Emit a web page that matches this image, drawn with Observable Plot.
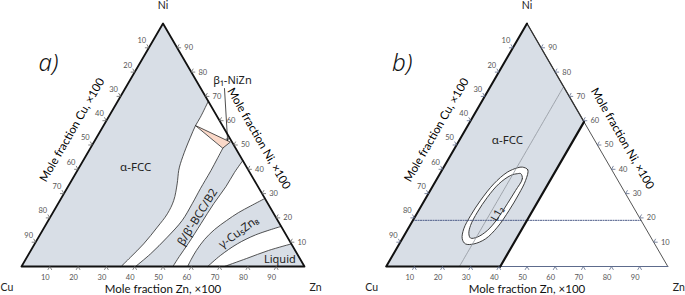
<!DOCTYPE html>
<html><head><meta charset="utf-8">
<script src="https://cdn.jsdelivr.net/npm/d3@7"></script>
<script src="https://cdn.jsdelivr.net/npm/@observablehq/plot@0.6"></script>
<style>
body{margin:0;background:#fff;}
#wrap{display:flex;width:685px;height:295px;overflow:hidden;}
#wrap svg{overflow:visible;}
</style></head><body><div id="wrap"></div>
<script>
// ---------- data (mole fractions [Zn, Ni]) ----------
const tickValues = [10, 20, 30, 40, 50, 60, 70, 80, 90];
const cornerNames = ["Cu", "Zn", "Ni"];
const axisTitles = ["Mole fraction Zn, ×100", "Mole fraction Cu, ×100", "Mole fraction Ni, ×100"];
const panelNames = ["a)", "b)"];

// panel a: phase boundaries
const alphaBoundaryA = [[0.32,0.68],[0.325,0.614],[0.325,0.58],[0.331,0.532],[0.338,0.484],[0.35,0.423],[0.358,0.395],[0.38,0.34],[0.402,0.272],[0.407,0.217],[0.399,0.162],[0.385,0.093],[0.366,0.038],[0.352,0]];
const betaLeftA = [[0.468,0.488],[0.47,0.443],[0.472,0.395],[0.472,0.354],[0.472,0.32],[0.474,0.258],[0.473,0.189],[0.455,0.121],[0.43,0.052],[0.403,0]];
const betaRightA = [[0.564,0.436],[0.559,0.387],[0.558,0.329],[0.55,0.259],[0.546,0.177],[0.542,0.095],[0.537,0.041],[0.535,0]];
const betaTopA = [[0.482,0.512],[0.49,0.51]];
const gammaUpperA = [[0.72,0.28],[0.685,0.249],[0.656,0.222],[0.63,0.189],[0.606,0.152],[0.591,0.111],[0.585,0.066],[0.585,0.03],[0.587,0]];
const gammaLowerA = [[0.835,0.165],[0.762,0.13],[0.716,0.093],[0.68,0.045],[0.658,0]];
const liquidA = [[0.907,0.093],[0.84,0.066],[0.779,0.033],[0.717,0]];
const beta1A = [[0.325,0.58],[0.482,0.512],[0.468,0.488]];
const beta1Pointer = [[0.351,0.7325],[0.469,0.5185]];
const phaseNamesA = ["α-FCC", "β/β'-BCC/B2", "γ-Cu₅Zn₈", "Liquid", "β₁-NiZn"];
const phaseLabelAtA = [[0.199,0.409],[0.52,0.203],[0.697,0.141],[0.899,0.028],[0.363,0.765]];

// panel b
const alphaLimitB = [[0.405,0.595],[0.405,0]];
const l12OuterB = [[0.279,0.409],[0.304,0.398],[0.318,0.354],[0.322,0.299],[0.321,0.231],[0.314,0.162],[0.296,0.114],[0.265,0.093],[0.235,0.093],[0.213,0.114],[0.198,0.155],[0.195,0.21],[0.199,0.272],[0.212,0.34],[0.236,0.388],[0.263,0.406]];
const l12InnerB = [[0.287,0.382],[0.303,0.361],[0.303,0.313],[0.301,0.258],[0.297,0.196],[0.285,0.148],[0.263,0.121],[0.241,0.117],[0.226,0.135],[0.215,0.169],[0.212,0.224],[0.217,0.285],[0.23,0.34],[0.255,0.375],[0.275,0.382]];
const isoNiB = 0.19;
const isoZnB = 0.26;
const phaseNamesB = ["α-FCC", "L1₂"];
const phaseLabelAtB = [[0.17,0.521],[0.286,0.217]];

// ---------- helpers ----------
const S = Math.sqrt(3) / 2;
const toXY = ([zn, ni]) => ({x: zn + ni / 2, y: ni * S});
const P = (pts) => pts.map(toXY);
const FILL = "#d8dee6";
const FONT = "Lato, 'Open Sans', 'Noto Sans', sans-serif";
const LFONT = "'Noto Sans', 'Open Sans', sans-serif";

function frameMarks(tickColor) {
  const bottom = tickValues.map(v => ({...toXY([v / 100, 0]), label: String(v)}));
  const right = tickValues.map(v => ({...toXY([1 - v / 100, v / 100]), label: String(v)}));
  const left = tickValues.map(v => ({...toXY([0, 1 - v / 100]), label: String(v)}));
  const L = 0.014, legs = [];
  for (const [ticks, dirs] of [[bottom, [[-0.5, -S], [0.5, -S]]], [right, [[1, 0], [0.5, S]]], [left, [[-1, 0], [-0.5, S]]]])
    for (const t of ticks) for (const [dx, dy] of dirs) legs.push({x1: t.x, y1: t.y, x2: t.x + dx * L, y2: t.y + dy * L});
  const corners = P([[0, 0], [1, 0], [0, 1]]).map((d, i) => ({...d, name: cornerNames[i]}));
  return [
    Plot.link(legs, {x1: "x1", y1: "y1", x2: "x2", y2: "y2", stroke: tickColor, strokeWidth: 0.8}),
    Plot.text(bottom, {x: "x", y: "y", text: "label", dx: -4.5, dy: 11, fontSize: 7.5, fill: "#555"}),
    Plot.text(right, {x: "x", y: "y", text: "label", dx: 11.5, dy: 0, fontSize: 7.5, fill: "#555"}),
    Plot.text(left, {x: "x", y: "y", text: "label", dx: -7, dy: -7, fontSize: 7.5, fill: "#555"}),
    Plot.text([corners[0]], {x: "x", y: "y", text: "name", dx: -14.5, dy: 21, fontSize: 10.5, fill: "#222"}),
    Plot.text([corners[1]], {x: "x", y: "y", text: "name", dx: 11, dy: 21, fontSize: 10.5, fill: "#222"}),
    Plot.text([corners[2]], {x: "x", y: "y", text: "name", dy: -18, fontSize: 10.5, fill: "#222"}),
    Plot.text([toXY([0.5, 0])], {x: "x", y: "y", text: () => axisTitles[0], dy: 23, fontSize: 11.5, fill: "#111"}),
    Plot.text([toXY([0, 0.5])], {x: "x", y: "y", text: () => axisTitles[1], dx: -20, dy: -15, rotate: -60, fontSize: 11.5, fill: "#000"}),
    Plot.text([toXY([0.5, 0.5])], {x: "x", y: "y", text: () => axisTitles[2], dx: 25, dy: -6.5, rotate: 60, fontSize: 11.5, fill: "#000"})
  ];
}

function opts(width, ml, mr, marks) {
  return {
    width, height: 295, marginLeft: ml, marginRight: mr, marginTop: 23, marginBottom: 29,
    x: {domain: [0, 1], axis: null}, y: {domain: [0, S], axis: null},
    style: {fontFamily: FONT, background: "white", overflow: "visible"},
    marks
  };
}

const boundary = (pts) => Plot.line(P(pts), {x: "x", y: "y", stroke: "#2a2a2a", strokeWidth: 0.8, curve: "catmull-rom"});
const region = (pts) => Plot.line(P(pts), {x: "x", y: "y", fill: FILL, stroke: "none", curve: "linear-closed"});

// ---------- panel a ----------
const alphaRegionA = [[0, 0], [0, 1], ...alphaBoundaryA];
const betaRegionA = [...betaLeftA.slice().reverse(), ...betaTopA, ...betaRightA];
const gammaRegionA = [...gammaUpperA, ...gammaLowerA.slice().reverse()];
const liquidRegionA = [...liquidA, [1, 0]];
const lab = (i, at, names, extra) => Plot.text([toXY(at[i])], {x: "x", y: "y", text: () => names[i], fontSize: 11.5, fill: "#222", fontFamily: LFONT, ...extra});

const plotA = Plot.plot(opts(342, 21, 38, [
  region(alphaRegionA), region(betaRegionA), region(gammaRegionA), region(liquidRegionA),
  boundary(alphaBoundaryA), boundary(betaLeftA), boundary(betaRightA), boundary(gammaUpperA), boundary(gammaLowerA), boundary(liquidA),
  Plot.line(P(beta1A), {x: "x", y: "y", fill: "#fad8c8", stroke: "#2a2a2a", strokeWidth: 0.8, curve: "linear-closed"}),
  Plot.arrow([{a: toXY(beta1Pointer[0]), b: toXY(beta1Pointer[1])}], {x1: d => d.a.x, y1: d => d.a.y, x2: d => d.b.x, y2: d => d.b.y, stroke: "#222", strokeWidth: 0.8, headLength: 4}),
  Plot.line(P([[0, 0], [1, 0], [0, 1], [0, 0]]), {x: "x", y: "y", stroke: "#111", strokeWidth: 1.8}),
  ...frameMarks("#666"),
  lab(0, phaseLabelAtA, phaseNamesA, {}),
  lab(1, phaseLabelAtA, phaseNamesA, {rotate: -58}),
  lab(2, phaseLabelAtA, phaseNamesA, {rotate: -36}),
  lab(3, phaseLabelAtA, phaseNamesA, {fontSize: 11}),
  lab(4, phaseLabelAtA, phaseNamesA, {fontSize: 11}),
  Plot.text([0], {frameAnchor: "top-left", text: () => panelNames[0], dx: 27, dy: 30, fontSize: 24, fontStyle: "italic", fontWeight: 300, fill: "#111", textAnchor: "middle", fontFamily: LFONT})
]));

// ---------- panel b ----------
const alphaRegionB = [[0, 0], [0, 1], ...alphaLimitB];
const plotB = Plot.plot(opts(343, 43.7, 17.7, [
  region(alphaRegionB),
  Plot.line(P(l12OuterB), {x: "x", y: "y", fill: "white", stroke: "#2a2a2a", strokeWidth: 0.9, curve: "catmull-rom-closed"}),
  Plot.line(P(l12InnerB), {x: "x", y: "y", fill: FILL, stroke: "#2a2a2a", strokeWidth: 0.9, curve: "catmull-rom-closed"}),
  Plot.line(P([[0, isoNiB], [1 - isoNiB, isoNiB]]), {x: "x", y: "y", stroke: "#4c5c88", strokeWidth: 1, strokeDasharray: "1.2,1.3"}),
  Plot.line(P([[isoZnB, 0], [isoZnB, 1 - isoZnB]]), {x: "x", y: "y", stroke: "#8f949c", strokeWidth: 0.8, strokeDasharray: "2,0.8"}),
  Plot.line(P([[1, 0], [0, 1]]), {x: "x", y: "y", stroke: "#555", strokeWidth: 1}),
  Plot.line(P([[alphaLimitB[0][0], alphaLimitB[0][1]], [0, 1]]), {x: "x", y: "y", stroke: "#333", strokeWidth: 1.3}),
  Plot.line(P([[alphaLimitB[1][0], 0], [1, 0]]), {x: "x", y: "y", stroke: "#5d6b8c", strokeWidth: 1}),
  Plot.line(P([[0, 1], [0, 0], [alphaLimitB[1][0], 0]]), {x: "x", y: "y", stroke: "#111", strokeWidth: 2}),
  Plot.line(P(alphaLimitB), {x: "x", y: "y", stroke: "#111", strokeWidth: 2.2}),
  ...frameMarks("#5d6b8c"),
  lab(0, phaseLabelAtB, phaseNamesB, {}),
  lab(1, phaseLabelAtB, phaseNamesB, {rotate: -60, fontSize: 10.5}),
  Plot.text([0], {frameAnchor: "top-left", text: () => panelNames[1], dx: 16, dy: 30, fontSize: 24, fontStyle: "italic", fontWeight: 300, fill: "#111", textAnchor: "middle", fontFamily: LFONT})
]));

document.getElementById("wrap").append(plotA, plotB);
</script></body></html>
